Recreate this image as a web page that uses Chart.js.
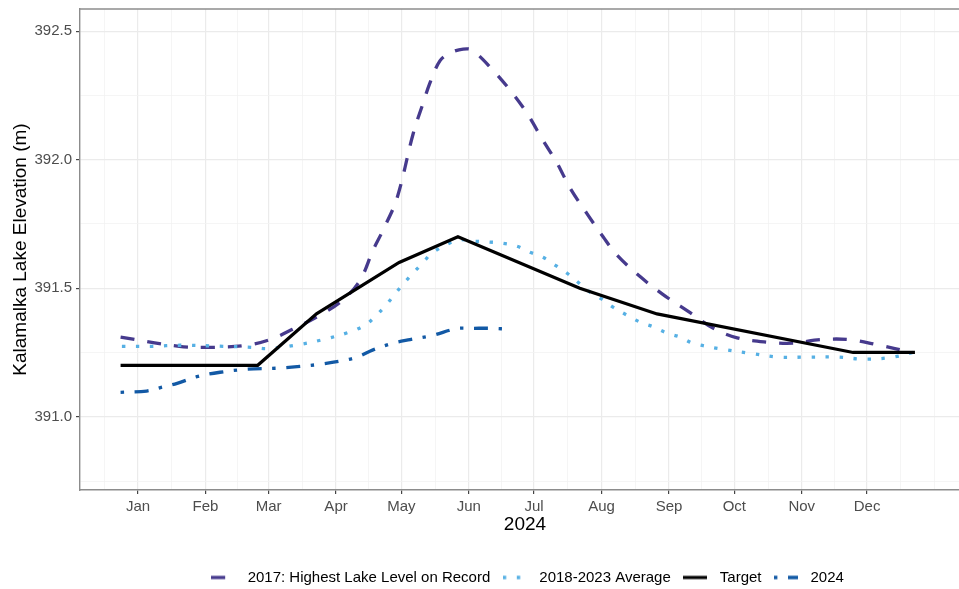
<!DOCTYPE html>
<html>
<head>
<meta charset="utf-8">
<script src="https://cdn.jsdelivr.net/npm/chart.js@4.4.1/dist/chart.umd.min.js"></script>
<style>
  html, body { margin: 0; padding: 0; background: #fff; overflow: hidden; }
  /* the panel runs past the right edge of the picture, so the canvas is a bit wider than the window */
  #wrap { width: 970px; height: 595px; }
</style>
</head>
<body>
<div id="wrap"><canvas id="lake"></canvas></div>
<script>
// x = day of 2024 (0 = Jan 1), y = lake elevation in metres
var highDays = [-8, 19, 34.5, 50, 60.7, 71, 83.6, 94, 102, 108, 112.6, 119, 126.4, 131, 134.2, 138.8,
  143.4, 149.4, 153.5, 161.8, 171, 178.8, 186, 192.6, 198.5, 206.3, 213.7, 220, 230.7, 241.3,
  253.7, 264.2, 275.3, 289, 301, 313.4, 327.2, 339.6, 356];
var highLevels = [391.31, 391.274, 391.27, 391.278, 391.30, 391.34, 391.395, 391.453, 391.53, 391.648,
  391.726, 391.85, 392.10, 392.22, 392.30, 392.385, 392.415, 392.43, 392.426, 392.36, 392.27, 392.18,
  392.076, 391.986, 391.89, 391.79, 391.70, 391.63, 391.545, 391.475, 391.405, 391.345, 391.307,
  391.29, 391.286, 391.30, 391.30, 391.28, 391.25];

var avgDays = [-7.4, 6.4, 19.3, 39, 52.4, 59.3, 72.2, 85, 97.4, 104.3, 109, 113.5, 118.1, 122.2, 131,
  135.6, 147, 154, 160.8, 167.3, 174.2, 180.1, 186.1, 191.6, 197.2, 202.2, 206.8, 213.2, 218.3,
  224.7, 230.7, 236.7, 243.1, 249.1, 255, 268.4, 281.3, 294.1, 307.9, 321.2, 334.1, 347, 359.8];
var avgLevels = [391.274, 391.274, 391.278, 391.274, 391.27, 391.265, 391.278, 391.30, 391.33, 391.356,
  391.39, 391.43, 391.477, 391.52, 391.60, 391.64, 391.687, 391.683, 391.68, 391.675, 391.663,
  391.64, 391.62, 391.59, 391.558, 391.523, 391.49, 391.457, 391.426, 391.395, 391.368, 391.35,
  391.325, 391.31, 391.286, 391.263, 391.247, 391.232, 391.232, 391.232, 391.224, 391.232, 391.259];

var targetDays = [-8, 55, 82, 120, 147, 203, 238.5, 328.6, 357];
var targetLevels = [391.20, 391.20, 391.40, 391.60, 391.70, 391.50, 391.40, 391.25, 391.25];

var curDays = [-8, 4, 11, 18, 27.6, 37.7, 50, 64.3, 74.4, 83.6, 92.8, 100.6, 108, 117.2, 125, 135.6,
  143.4, 147, 154, 161.8, 172];
var curLevels = [391.095, 391.10, 391.115, 391.13, 391.157, 391.173, 391.185, 391.189, 391.196,
  391.204, 391.216, 391.232, 391.26, 391.286, 391.30, 391.317, 391.337, 391.344, 391.344, 391.344,
  391.34];

var monthLabels = ["Jan", "Feb", "Mar", "Apr", "May", "Jun", "Jul", "Aug", "Sep", "Oct", "Nov", "Dec"];
var monthStarts = [0, 31, 60, 91, 121, 152, 182, 213, 244, 274, 305, 335];
var yLabels = [391.0, 391.5, 392.0, 392.5];
var yMinor = [390.75, 391.25, 391.75, 392.25];

var FONT = "'Liberation Sans', Arial, sans-serif";
var X_MIN = -26.65, X_MAX = 382.3;
var Y_MIN = 390.715, Y_MAX = 392.586;

// minor breaks half way between month starts, one before Jan and up to next Jan
var xMinor = [-15.5];
for (var i = 0; i < monthStarts.length; i++) {
  var next = i + 1 < monthStarts.length ? monthStarts[i + 1] : 366;
  xMinor.push((monthStarts[i] + next) / 2);
}
xMinor.push(366);

function pairs(days, levels) {
  return days.map(function (d, i) { return { x: d, y: levels[i] }; });
}

function isMajor(list, ctx) {
  return ctx.tick && list.indexOf(ctx.tick.value) >= 0;
}

// small picture of a line sample for the legend key
function keyImage(color, width, dash) {
  var cv = document.createElement("canvas");
  cv.width = 24;
  cv.height = 6;
  var c = cv.getContext("2d");
  c.strokeStyle = color;
  c.lineWidth = width;
  c.lineCap = "butt";
  c.setLineDash(dash || []);
  c.beginPath();
  c.moveTo(0, 3);
  c.lineTo(24, 3);
  c.stroke();
  return cv;
}

var panelTop = {
  id: "panelTop",
  afterDraw: function (chart) {
    var a = chart.chartArea, c = chart.ctx;
    c.save();
    c.strokeStyle = "#8c8c8c";
    c.lineWidth = 1.4;
    c.beginPath();
    c.moveTo(a.left, a.top);
    c.lineTo(a.right, a.top);
    c.stroke();
    c.restore();
  }
};

new Chart(document.getElementById("lake"), {
  type: "line",
  data: {
    datasets: [
      {
        label: "2017: Highest Lake Level on Record",
        data: pairs(highDays, highLevels),
        borderColor: "#463a8d",
        borderWidth: 3.3,
        borderDash: [14, 13],
        tension: 0.35,
        order: 3
      },
      {
        label: "2018-2023 Average",
        data: pairs(avgDays, avgLevels),
        borderColor: "#56b0e4",
        borderWidth: 3.3,
        borderDash: [3.4, 10.6],
        tension: 0.35,
        order: 2
      },
      {
        label: "Target",
        data: pairs(targetDays, targetLevels),
        borderColor: "#000000",
        borderWidth: 3.2,
        tension: 0,
        order: 0
      },
      {
        label: "2024",
        data: pairs(curDays, curLevels),
        borderColor: "#1259a5",
        borderWidth: 3.3,
        borderDash: [3.4, 10.6, 14, 10.6],
        tension: 0.35,
        order: 1
      }
    ]
  },
  options: {
    responsive: true,
    maintainAspectRatio: false,
    animation: false,
    elements: { point: { radius: 0, hoverRadius: 0 }, line: { fill: false, borderCapStyle: "butt" } },
    layout: { padding: { top: 9, right: 0, bottom: 0, left: 0 } },
    scales: {
      x: {
        type: "linear",
        min: X_MIN,
        max: X_MAX,
        afterBuildTicks: function (scale) {
          scale.ticks = monthStarts.concat(xMinor)
            .filter(function (v) { return v >= X_MIN && v <= X_MAX; })
            .sort(function (a, b) { return a - b; })
            .map(function (v) { return { value: v }; });
        },
        afterFit: function (scale) {
          scale.height = 72.5;
          scale.paddingLeft = 0;
          scale.paddingRight = 0;
        },
        ticks: {
          autoSkip: false,
          maxRotation: 0,
          padding: 4,
          color: "#4d4d4d",
          font: { family: FONT, size: 15 },
          callback: function (v) {
            var k = monthStarts.indexOf(v);
            return k >= 0 ? monthLabels[k] : "";
          }
        },
        grid: {
          color: function (ctx) { return isMajor(monthStarts, ctx) ? "#ebebeb" : "#f2f2f2"; },
          lineWidth: function (ctx) { return isMajor(monthStarts, ctx) ? 1.2 : 0.8; },
          tickLength: 4,
          tickWidth: 1.2,
          tickColor: function (ctx) { return isMajor(monthStarts, ctx) ? "#444" : "rgba(0,0,0,0)"; }
        },
        border: { color: "#8c8c8c", width: 1.4 },
        title: {
          display: true,
          text: "2024",
          color: "#000",
          font: { family: FONT, size: 19 },
          padding: { top: 0, bottom: 26 }
        }
      },
      y: {
        min: Y_MIN,
        max: Y_MAX,
        afterBuildTicks: function (scale) {
          scale.ticks = yLabels.concat(yMinor)
            .sort(function (a, b) { return a - b; })
            .map(function (v) { return { value: v }; });
        },
        afterFit: function (scale) {
          scale.width = 80;
          scale.paddingTop = 0;
          scale.paddingBottom = 0;
        },
        ticks: {
          padding: 4,
          color: "#4d4d4d",
          font: { family: FONT, size: 15 },
          callback: function (v) { return yLabels.indexOf(v) >= 0 ? v.toFixed(1) : ""; }
        },
        grid: {
          color: function (ctx) { return isMajor(yLabels, ctx) ? "#ebebeb" : "#f2f2f2"; },
          lineWidth: function (ctx) { return isMajor(yLabels, ctx) ? 1.2 : 0.8; },
          tickLength: 4,
          tickWidth: 1.2,
          tickColor: function (ctx) { return isMajor(yLabels, ctx) ? "#444" : "rgba(0,0,0,0)"; }
        },
        border: { color: "#8c8c8c", width: 1.4 },
        title: {
          display: true,
          text: "Kalamalka Lake Elevation (m)",
          color: "#000",
          font: { family: FONT, size: 19 },
          padding: { top: 9, bottom: 0 }
        }
      }
    },
    plugins: {
      legend: {
        position: "bottom",
        fullSize: false,
        labels: {
          usePointStyle: true,
          pointStyleWidth: 34,
          padding: 7.5,
          color: "#000",
          font: { family: FONT, size: 15 },
          generateLabels: function (chart) {
            return chart.data.datasets.map(function (ds, k) {
              return {
                text: ds.label,
                datasetIndex: k,
                pointStyle: keyImage(ds.borderColor, ds.borderWidth, ds.borderDash),
                strokeStyle: ds.borderColor,
                fillStyle: ds.borderColor,
                lineWidth: 0,
                fontColor: "#000",
                hidden: false
              };
            });
          }
        }
      },
      tooltip: { enabled: false }
    }
  },
  plugins: [panelTop]
});
</script>
</body>
</html>
